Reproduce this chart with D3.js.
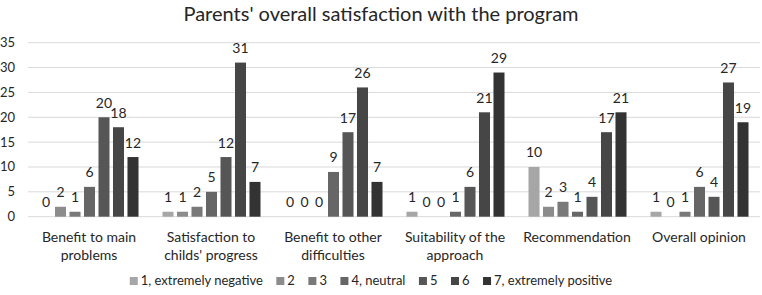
<!DOCTYPE html>
<html><head><meta charset="utf-8">
<script src="https://cdn.jsdelivr.net/npm/d3@7"></script>
<style>body{margin:0;background:#fff;} text{font-family:Lato,"Open Sans",sans-serif;fill:#262626;}</style>
</head><body>
<svg id="c" width="762" height="295"></svg>
<script>
const categories = [["Benefit to main","problems"],["Satisfaction to","childs' progress"],["Benefit to other","difficulties"],["Suitability of the","approach"],["Recommendation"],["Overall opinion"]];
const seriesNames = ["1, extremely negative","2","3","4, neutral","5","6","7, extremely positive"];
const s1 = [0,1,0,1,10,1];
const s2 = [2,1,0,0,2,0];
const s3 = [1,2,0,0,3,1];
const s4 = [6,5,9,1,1,6];
const s5 = [20,12,17,6,4,4];
const s6 = [18,31,26,21,17,27];
const s7 = [12,7,7,29,21,19];
const yTicks = [0,5,10,15,20,25,30,35];
const colors = ["#a6a6a6","#8c8c8c","#797979","#666666","#565656","#464646","#333333"];
const seriesValues = [s1,s2,s3,s4,s5,s6,s7];

const svg = d3.select("#c");
const L = 28, R = 760, T = 42.7, B = 216.7;
const x0 = d3.scaleBand().domain(d3.range(categories.length)).range([L,R]).padding(0);
const x1 = d3.scaleBand().domain(d3.range(7)).range([12.5, x0.bandwidth()-11.5]).paddingInner(0.24).paddingOuter(0);
const y = d3.scaleLinear().domain([0,35]).range([B,T]);

svg.append("text").attr("x",381).attr("y",21).attr("text-anchor","middle")
  .style("font-size","20px").text("Parents' overall satisfaction with the program");

const g = svg.append("g");
g.selectAll("line.grid").data(yTicks).enter().append("line")
  .attr("x1",L).attr("x2",R).attr("y1",d=>y(d)).attr("y2",d=>y(d))
  .attr("stroke","#d9d9d9").attr("stroke-width",1);
g.selectAll("text.yl").data(yTicks).enter().append("text")
  .attr("x",15).attr("y",d=>y(d)+4.5).attr("text-anchor","end")
  .style("font-size","13px").text(d=>d);

seriesValues.forEach((vals,si)=>{
  const gs = g.append("g");
  gs.selectAll("rect").data(vals).enter().append("rect")
    .attr("x",(d,i)=>x0(i)+x1(si)).attr("width",x1.bandwidth())
    .attr("y",d=>y(d)).attr("height",d=>B-y(d)).attr("fill",colors[si]);
  gs.selectAll("text").data(vals).enter().append("text")
    .attr("x",(d,i)=>x0(i)+x1(si)+x1.bandwidth()/2).attr("y",d=>y(d)-9.5)
    .attr("text-anchor","middle").style("font-size","14px").text(d=>d);
});

categories.forEach((lines,i)=>{
  const t = g.append("text").attr("text-anchor","middle").style("font-size","14px");
  lines.forEach((ln,j)=>{
    t.append("tspan").attr("x",x0(i)+x0.bandwidth()/2).attr("y",242+j*17.5).text(ln);
  });
});

// legend laid out by measured text widths, centred
const lg = svg.append("g");
const items = seriesNames.map((n,i)=>{
  const it = lg.append("g");
  it.append("rect").attr("x",0).attr("y",-8).attr("width",8).attr("height",8).attr("fill",colors[i]);
  const t = it.append("text").attr("x",11).attr("y",0).style("font-size","13px").text(n);
  return {g:it, w: 11 + t.node().getComputedTextLength()};
});
const gap = 13.5;
const total = d3.sum(items,d=>d.w) + gap*(items.length-1);
let cx = 371 - total/2;
items.forEach(it=>{ it.g.attr("transform",`translate(${cx},285)`); cx += it.w + gap; });
</script>
</body></html>
